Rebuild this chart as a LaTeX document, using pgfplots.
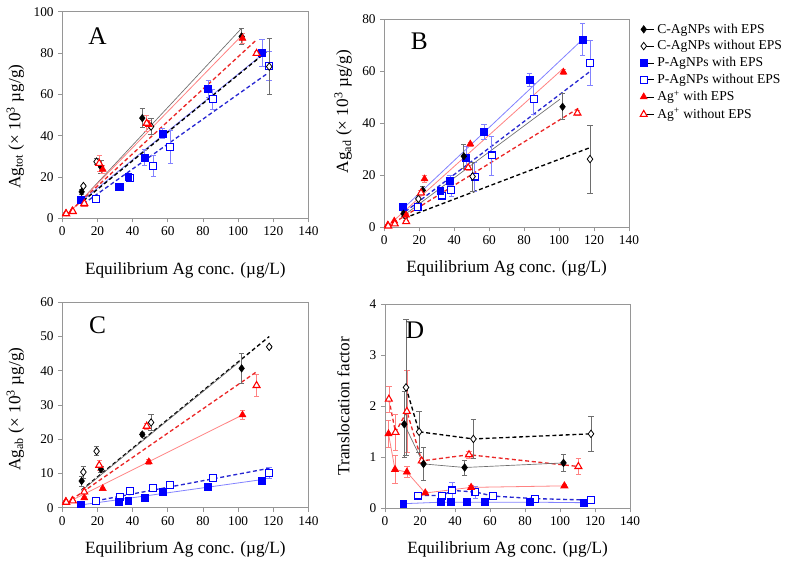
\documentclass[border=0pt]{standalone}
\usepackage{pgfplots}
\pgfplotsset{compat=1.18}
\usepackage{fontspec}
\setmainfont{Liberation Serif}

\definecolor{frame}{RGB}{150,150,150}
\definecolor{cgray}{RGB}{110,110,110}
\definecolor{pblue}{RGB}{0,0,255}
\definecolor{plight}{RGB}{130,130,255}
\definecolor{pdark}{RGB}{40,40,210}
\definecolor{ared}{RGB}{255,0,0}
\definecolor{alight}{RGB}{255,130,130}
\definecolor{adark}{RGB}{235,40,40}

\tikzset{letter/.style={font=\fontsize{19}{20}\selectfont}}

\pgfplotsset{
  panel/.style={
    scale only axis,
    xmin=0, xmax=140, xtick={0,20,...,140},
    axis line style={frame}, tick style={frame, line width=0.5pt},
    tick align=outside, xtick pos=left, ytick pos=left,
    major tick length=3pt,
    tick label style={font=\fontsize{10}{12}\selectfont},
    /pgf/number format/assume math mode=true,
    label style={font=\fontsize{12.9}{15}\selectfont},
    xlabel={Equilibrium Ag conc. (µg/L)},
    xlabel style={at={(axis description cs:0.5,0)}, anchor=north, yshift=-25pt, inner sep=0pt},
    clip=false,
  },
  ebar/.style={error bars/y dir=both, error bars/y explicit,
     error bars/error bar style={#1, solid, line width=0.5pt},
     error bars/error mark options={rotate=90, mark size=2pt, #1, solid, line width=0.5pt}},
  cwm/.style={mark=diamond*, mark size=2.8pt, mark options={solid, fill=black, draw=black}},
  com/.style={mark=diamond*, mark size=2.8pt, mark options={solid, fill=white, draw=black, line width=0.6pt}},
  pwm/.style={mark=square*, mark size=2.6pt, mark options={solid, fill=pblue, draw=pblue}},
  pom/.style={mark=square*, mark size=2.6pt, mark options={solid, fill=white, draw=pblue, line width=0.8pt}},
  awm/.style={mark=triangle*, mark size=3pt, mark options={solid, fill=ared, draw=ared}},
  aom/.style={mark=triangle*, mark size=3pt, mark options={solid, fill=white, draw=ared, line width=0.8pt}},
  cw/.style={cwm, ebar=cgray},
  co/.style={com, ebar=cgray},
  pw/.style={pwm, ebar=plight},
  po/.style={pom, ebar=plight},
  aw/.style={awm, ebar=alight},
  ao/.style={aom, ebar=alight},
  cwl/.style={cgray, line width=0.5pt},
  col/.style={black, dashed, dash pattern=on 3pt off 2pt, line width=1pt},
  pwl/.style={plight, line width=0.6pt},
  pol/.style={pdark, dashed, dash pattern=on 3pt off 2pt, line width=1pt},
  awl/.style={alight, line width=0.6pt},
  aol/.style={adark, dashed, dash pattern=on 3pt off 2pt, line width=1pt},
}

\begin{document}
\begin{tikzpicture}
\path[use as bounding box] (0,0) rectangle (590.25pt,420pt);

% ---------- A : total ----------
\begin{axis}[panel, at={(46.73pt,256.28pt)}, anchor=south west,
  width=184.6pt, height=154.95pt,
  ymin=0, ymax=100, ytick={0,20,...,100},
  xlabel style={yshift=-8pt},
  ylabel={Ag\textsubscript{tot} (× 10\textsuperscript{3} µg/g)},
  ylabel style={at={(axis description cs:-0.191,0.443)}, anchor=center}]
  % fitted lines
  \addplot[cwl, forget plot] coordinates {(10.5,8.5) (102,92)};
  \addplot[awl, forget plot] coordinates {(2,1) (101,87.5)};
  \addplot[aol, forget plot] coordinates {(2,1.5) (110,86)};
  \addplot[pwl, forget plot] coordinates {(10.5,8) (114.5,79.8)};
  \addplot[col, forget plot] coordinates {(12,8.5) (116,80.5)};
  \addplot[pol, forget plot] coordinates {(12,7) (116.5,70)};
  % data
  \addplot[only marks, po, forget plot] coordinates {
    (19,9.5) +- (0,1.5) (32.8,15.1) +- (0,0.5) (38.3,19.4) +- (0,1)
    (51.7,25.3) +- (0,5) (61.5,34.4) +- (0,8) (85.5,57.6) +- (0,5) (117.6,73.6) +- (0,7)};
  \addplot[only marks, pw, forget plot] coordinates {
    (10.5,8.9) +- (0,1) (32,15.3) +- (0,1) (37.5,20.2) +- (0,1) (46.8,29.5) +- (0,4)
    (57,41.1) +- (0,2.5) (83,62.7) +- (0,4) (113.5,80.2) +- (0,6.5)};
  \addplot[only marks, co, forget plot] coordinates {
    (12,15.6) +- (0,0.8) (19.5,27.4) +- (0,1.5) (50.5,44.4) +- (0,4) (117.7,73.4) +- (0,13.5)};
  \addplot[only marks, cw, forget plot] coordinates {
    (11,12.8) +- (0,1.2) (22,25) +- (0,3) (45.5,48.5) +- (0,4.5) (102,88) +- (0,4)};
  \addplot[only marks, aw, forget plot] coordinates {
    (2,2.4) +- (0,0.3) (5.7,3.7) +- (0,0.3) (12.5,6.8) +- (0,0.5) (23,23.7) +- (0,2)
    (49.2,45.4) +- (0,2) (102.5,87.1) +- (0,2.5)};
  \addplot[only marks, ao, forget plot] coordinates {
    (2.2,2.2) +- (0,0.3) (6,3.3) +- (0,0.3) (12.5,7.2) +- (0,0.5) (21,26.6) +- (0,4)
    (48,46) +- (0,4) (110.5,79.8) +- (0,1)};
  \node[letter] at (axis cs:20,88) {A};
\end{axis}

% ---------- B : adsorbed ----------
\begin{axis}[panel, at={(288.23pt,249.53pt)}, anchor=south west,
  width=183.5pt, height=156.2pt,
  ymin=0, ymax=80, ytick={0,20,...,80},
  ylabel={Ag\textsubscript{ad} (× 10\textsuperscript{3} µg/g)},
  ylabel style={at={(axis description cs:-0.168,0.555)}, anchor=center},
  legend style={at={(axis description cs:1.045,0.992)}, anchor=north west,
    draw=none, fill=none, inner sep=0pt, row sep=0pt,
    font=\fontsize{10.2}{12.2}\selectfont},
  legend cell align=left,
  legend image code/.code={\path (0pt,0pt) -- (8pt,0pt); \draw[#1] plot coordinates {(0cm,0cm)};}]
  \addplot[cwl, forget plot] coordinates {(11,4.5) (100.5,49.2)};
  \addplot[col, forget plot] coordinates {(11.4,3.5) (117.7,30.6)};
  \addplot[pwl, forget plot] coordinates {(10.5,7) (113.5,72.2)};
  \addplot[pol, forget plot] coordinates {(12,6) (117.6,59.8)};
  \addplot[awl, forget plot] coordinates {(2,0.5) (102.4,61)};
  \addplot[aol, forget plot] coordinates {(2,0.3) (111,45.7)};
  \addplot[only marks, po, forget plot] coordinates {
    (19,7.8) +- (0,1) (32.8,12.2) +- (0,1) (38.3,14.3) +- (0,2.3) (51.7,19.5) +- (0,5.5)
    (61.5,27.6) +- (0,7.5) (85.5,49.2) +- (0,6) (117.6,63.2) +- (0,8.5)};
  \addplot[only marks, pw, forget plot] coordinates {
    (10.5,8.0) +- (0,0.8) (32,14.1) +- (0,1) (37.5,18.0) +- (0,2) (46.8,26.6) +- (0,4.5)
    (57,36.6) +- (0,3) (83,56.6) +- (0,2.5) (113.5,72.2) +- (0,6)};
  \addplot[only marks, co, forget plot] coordinates {
    (12,4.5) +- (0,1) (19.5,10.9) +- (0,1.5) (50.5,19.5) +- (0,5.5) (117.7,26.2) +- (0,13)};
  \addplot[only marks, cw, forget plot] coordinates {
    (11,5.2) +- (0,1) (22,14.2) +- (0,1.5) (45.5,27.3) +- (0,4.5) (102,46.3) +- (0,5)};
  \addplot[only marks, aw, forget plot] coordinates {
    (2,0.9) +- (0,0.3) (5.7,2.4) +- (0,0.3) (12.5,4.7) +- (0,0.5) (23,18.6) +- (0,1.5)
    (49.2,32.0) +- (0,0.8) (102.5,59.6) +- (0,1)};
  \addplot[only marks, ao, forget plot] coordinates {
    (2.2,0.5) +- (0,0.3) (6,1.3) +- (0,0.3) (12.5,2.2) +- (0,0.4) (21,13.2) +- (0,1)
    (48,22.9) +- (0,1) (110.5,43.9) +- (0,1)};
  \node[letter] at (axis cs:20,71.3) {B};
  \addlegendimage{only marks, cwm}
  \addlegendentry{C-AgNPs with EPS}
  \addlegendimage{only marks, com}
  \addlegendentry{C-AgNPs without EPS}
  \addlegendimage{only marks, pwm}
  \addlegendentry{P-AgNPs with EPS}
  \addlegendimage{only marks, pom}
  \addlegendentry{P-AgNPs without EPS}
  \addlegendimage{only marks, awm}
  \addlegendentry{Ag\textsuperscript{+} with EPS}
  \addlegendimage{only marks, aom}
  \addlegendentry{Ag\textsuperscript{+} without EPS}
\end{axis}

% ---------- C : absorbed ----------
\begin{axis}[panel, at={(46.73pt,39.23pt)}, anchor=south west,
  width=184.6pt, height=154.05pt,
  ymin=0, ymax=60, ytick={0,10,...,60},
  ylabel={Ag\textsubscript{ab} (× 10\textsuperscript{3} µg/g)},
  ylabel style={at={(axis description cs:-0.191,0.48)}, anchor=center}]
  \addplot[col, forget plot] coordinates {(11,5.2) (117.7,50)};
  \addplot[cwl, forget plot] coordinates {(11,5) (101,42.7)};
  \addplot[aol, forget plot] coordinates {(2,1.2) (110.5,39.7)};
  \addplot[awl, forget plot] coordinates {(2,1.3) (102.5,27.1)};
  \addplot[pol, forget plot] coordinates {(19,2.0) (117.6,11.5)};
  \addplot[pwl, forget plot] coordinates {(10.5,0.8) (113.5,8.2)};
  \addplot[only marks, po, forget plot] coordinates {
    (19,1.9) +- (0,0.3) (32.8,3.1) +- (0,0.3) (38.3,4.9) +- (0,0.5) (51.7,5.7) +- (0,0.5)
    (61.5,6.6) +- (0,0.5) (85.5,8.6) +- (0,0.7) (117.6,10.2) +- (0,1.7)};
  \addplot[only marks, pw, forget plot] coordinates {
    (10.5,1.0) +- (0,0.2) (32,1.6) +- (0,0.2) (37.5,2.0) +- (0,0.2) (46.8,2.8) +- (0,0.3)
    (57,4.7) +- (0,0.3) (83,6.0) +- (0,0.4) (113.5,8.0) +- (0,0.5)};
  \addplot[only marks, co, forget plot] coordinates {
    (12,10.4) +- (0,1.8) (19.5,16.5) +- (0,1.3) (50.5,24.9) +- (0,2.3) (117.7,47.0) +- (0,0.5)};
  \addplot[only marks, cw, forget plot] coordinates {
    (11,7.8) +- (0,1.5) (22,11.2) +- (0,1) (45.5,21.4) +- (0,0.7) (102,40.7) +- (0,4.3)};
  \addplot[only marks, aw, forget plot] coordinates {
    (2,1.9) +- (0,0.2) (5.7,2.2) +- (0,0.2) (12.5,2.9) +- (0,0.3) (23,5.6) +- (0,0.4)
    (49.2,13.4) +- (0,0.8) (102.5,27.1) +- (0,1.2)};
  \addplot[only marks, ao, forget plot] coordinates {
    (2.2,1.6) +- (0,0.2) (6,2.0) +- (0,0.2) (12.5,4.6) +- (0,0.7) (21,12.4) +- (0,1.4)
    (48,23.8) +- (0,0.8) (110.5,35.7) +- (0,3.3)};
  \node[letter] at (axis cs:20,53.4) {C};
\end{axis}

% ---------- D : translocation factor ----------
\begin{axis}[panel, at={(288.75pt,38.78pt)}, anchor=south west,
  width=183.75pt, height=153pt,
  ymin=0, ymax=4, ytick={0,1,...,4},
  ylabel={Translocation factor},
  ylabel style={at={(axis description cs:-0.17,0.50)}, anchor=center}]
  \addplot[pol, po, forget plot] coordinates {
    (19,0.25) +- (0,0.04) (32.8,0.25) +- (0,0.05) (38.3,0.35) +- (0,0.16) (51.7,0.32) +- (0,0.12)
    (61.5,0.24) +- (0,0.04) (85.5,0.19) +- (0,0.03) (117.6,0.16) +- (0,0.03)};
  \addplot[pwl, pw, forget plot] coordinates {
    (10.5,0.09) +- (0,0.01) (32,0.12) +- (0,0.01) (37.5,0.12) +- (0,0.01) (46.8,0.12) +- (0,0.01)
    (57,0.12) +- (0,0.01) (83,0.12) +- (0,0.01) (113.5,0.11) +- (0,0.01)};
  \addplot[aol, ao, forget plot] coordinates {
    (2.2,2.14) +- (0,0.26) (6,1.49) +- (0,0.35) (12.5,1.90) +- (0,0.8) (21,0.93) +- (0,0.05)
    (48,1.05) +- (0,0.07) (110.5,0.82) +- (0,0.15)};
  \addplot[awl, aw, forget plot] coordinates {
    (2,1.46) +- (0,0.26) (5.7,0.76) +- (0,0.28) (12.5,0.71) +- (0,0.11) (23,0.30) +- (0,0.03)
    (49.2,0.41) +- (0,0.04) (102.5,0.44) +- (0,0.03)};
  \addplot[col, co, forget plot] coordinates {
    (12,2.37) +- (0,1.33) (19.5,1.50) +- (0,0.40) (50.5,1.36) +- (0,0.39) (117.7,1.46) +- (0,0.35)};
  \addplot[cwl, cw, forget plot] coordinates {
    (11,1.65) +- (0,0.65) (22,0.87) +- (0,0.33) (45.5,0.80) +- (0,0.15) (102,0.89) +- (0,0.16)};
  \node[letter] at (axis cs:17.1,3.5) {D};
\end{axis}
\end{tikzpicture}
\end{document}
